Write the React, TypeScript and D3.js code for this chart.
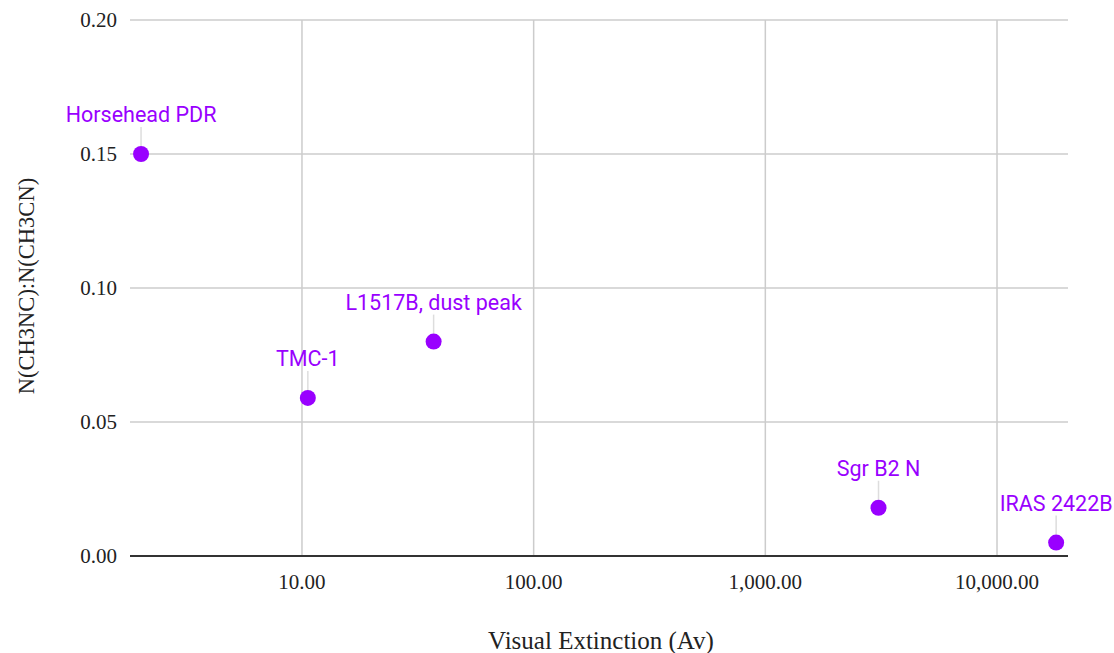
import React from "react";
import * as d3 from "d3";

const sources = ["Horsehead PDR", "TMC-1", "L1517B, dust peak", "Sgr B2 N", "IRAS 2422B"];
const extinction = [2.02, 10.6, 37, 3080, 18000];
const ratio = [0.15, 0.059, 0.08, 0.018, 0.005];
const xTicks = [10, 100, 1000, 10000];
const yTicks = [0, 0.05, 0.1, 0.15, 0.2];

const W = 1114;
const H = 653;
const left = 130;
const right = 1068;
const top = 20;
const bottom = 556;

export default function App() {
  const x = d3.scaleLog().domain([1.81, 20250]).range([left, right]);
  const y = d3.scaleLinear().domain([0, 0.2]).range([bottom, top]);
  const fmtX = d3.format(",.2f");
  const fmtY = d3.format(".2f");
  const purple = "#9900ff";
  const serif = "'Liberation Serif', 'Times New Roman', serif";
  return (
    <svg width={W} height={H} style={{ position: "absolute", left: 0, top: 0, background: "#fff" }}>
      {yTicks.map((t) => (
        <g key={"y" + t}>
          {t !== 0 && (
            <line x1={left} x2={right} y1={y(t)} y2={y(t)} stroke="#cccccc" strokeWidth={1.5} />
          )}
          <text x={left - 13} y={y(t)} dy="0.35em" textAnchor="end" fontFamily={serif} fontSize={21} fill="#222">
            {fmtY(t)}
          </text>
        </g>
      ))}
      {xTicks.map((t) => (
        <g key={"x" + t}>
          <line x1={x(t)} x2={x(t)} y1={top} y2={bottom} stroke="#cccccc" strokeWidth={1.5} />
          <text x={x(t)} y={bottom + 33} textAnchor="middle" fontFamily={serif} fontSize={21} fill="#222">
            {fmtX(t)}
          </text>
        </g>
      ))}
      <line x1={left} x2={right} y1={y(0)} y2={y(0)} stroke="#333" strokeWidth={2} />
      {sources.map((s, i) => {
        const cx = x(extinction[i]);
        const cy = y(ratio[i]);
        return (
          <g key={s}>
            <line x1={cx} x2={cx} y1={cy - 27} y2={cy - 8} stroke="#dddddd" strokeWidth={1.5} />
            <circle cx={cx} cy={cy} r={8} fill={purple} />
            <text x={cx} y={cy - 32} textAnchor="middle" fontFamily="Roboto, sans-serif" fontSize={21.5} fill={purple}>
              {s}
            </text>
          </g>
        );
      })}
      <text x={601} y={649} textAnchor="middle" fontFamily={serif} fontSize={25} fill="#222">
        Visual Extinction (Av)
      </text>
      <text
        transform={`translate(34, 286) rotate(-90)`}
        textAnchor="middle"
        fontFamily={serif}
        fontSize={22.5}
        fill="#222"
      >
        N(CH3NC):N(CH3CN)
      </text>
    </svg>
  );
}
